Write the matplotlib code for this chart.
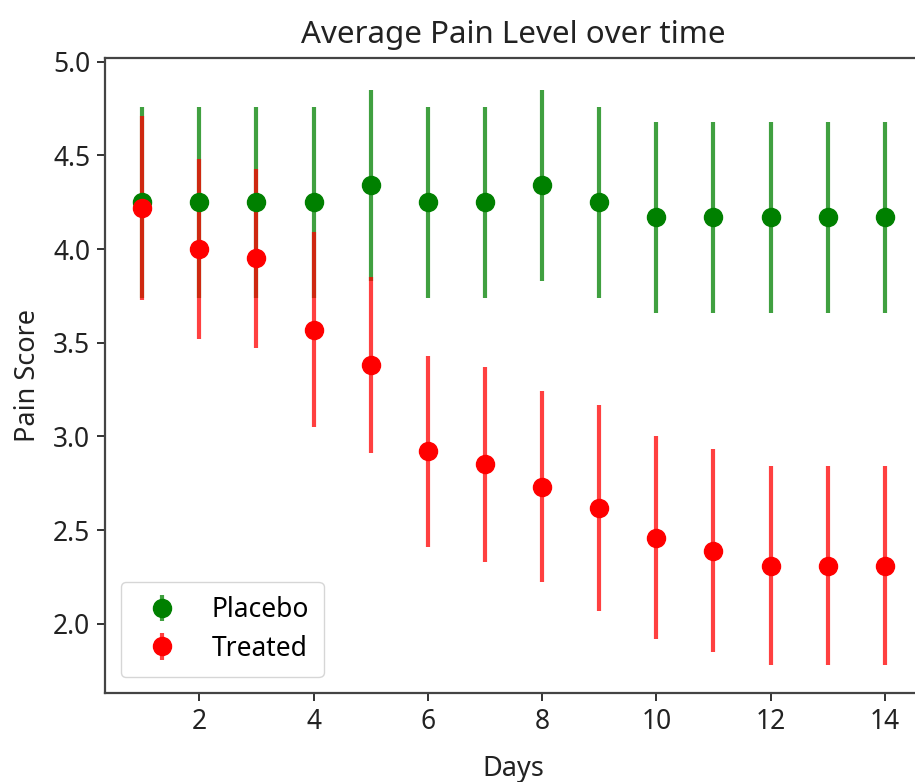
import matplotlib

matplotlib.use("Agg")
import matplotlib.pyplot as plt

plt.rcParams["font.family"] = ["Noto Sans", "DejaVu Sans"]

days = [1, 2, 3, 4, 5, 6, 7, 8, 9, 10, 11, 12, 13, 14]
placebo_mean = [4.25, 4.25, 4.25, 4.25, 4.34, 4.25, 4.25, 4.34, 4.25, 4.17, 4.17, 4.17, 4.17, 4.17]
placebo_err = [0.51, 0.51, 0.51, 0.51, 0.51, 0.51, 0.51, 0.51, 0.51, 0.51, 0.51, 0.51, 0.51, 0.51]
treated_mean = [4.22, 4.00, 3.95, 3.57, 3.38, 2.92, 2.85, 2.73, 2.62, 2.46, 2.39, 2.31, 2.31, 2.31]
treated_err = [0.49, 0.48, 0.48, 0.52, 0.47, 0.51, 0.52, 0.51, 0.55, 0.54, 0.54, 0.53, 0.53, 0.53]

W, H = 915, 782
fig = plt.figure(figsize=(W / 100, H / 100), dpi=100)
ax = fig.add_axes([105 / W, (H - 693) / H, (922 - 105) / W, (693 - 58) / H])

ax.errorbar(days, placebo_mean, yerr=placebo_err, fmt="o", color="green",
            ecolor=(0, 0.5, 0, 0.75), elinewidth=3, markersize=13, label="Placebo")
ax.errorbar(days, treated_mean, yerr=treated_err, fmt="o", color="red",
            ecolor=(1, 0, 0, 0.75), elinewidth=3, markersize=13, label="Treated")

ax.set_xlim(0.35, 14.65)
ax.set_ylim(1.63, 5.02)
ax.set_xticks([2, 4, 6, 8, 10, 12, 14])
ax.set_yticks([2.0, 2.5, 3.0, 3.5, 4.0, 4.5, 5.0])
ax.tick_params(labelsize=19, length=5.5, width=1.3, pad=5, colors="#222222")
for spine in ax.spines.values():
    spine.set_linewidth(1.6)
    spine.set_color("#444444")

ax.set_title("Average Pain Level over time", fontsize=22.5, color="#222222", pad=11)
ax.set_xlabel("Days", fontsize=19.5, color="#222222", labelpad=14)
ax.set_ylabel("Pain Score", fontsize=19.5, color="#222222", labelpad=8)
ax.legend(loc="lower left", fontsize=19, handletextpad=0.9, borderpad=0.55,
          labelspacing=0.4, borderaxespad=0.6)

fig.savefig("out.png", dpi=100)
